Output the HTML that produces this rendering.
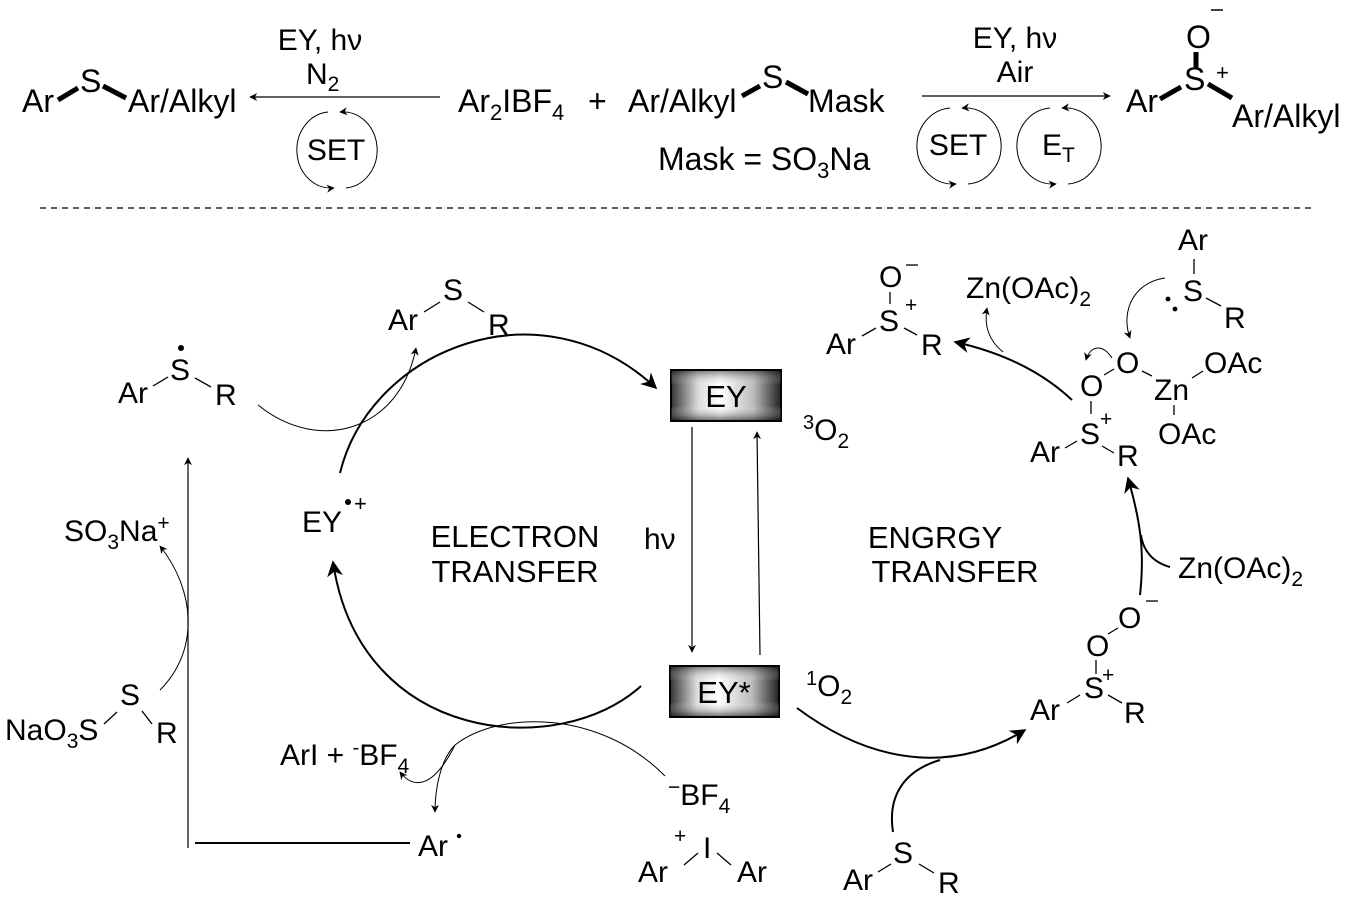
<!DOCTYPE html>
<html><head><meta charset="utf-8"><style>
html,body{margin:0;padding:0;background:#fff;}
svg{display:block;font-family:"Liberation Sans",Arial,sans-serif;}
text{fill:#000;}
</style></head><body>
<svg width="1356" height="903" viewBox="0 0 1356 903" xmlns="http://www.w3.org/2000/svg">
<defs>
<marker id="ah" viewBox="0 0 10 10" refX="9" refY="5" markerWidth="8" markerHeight="8" orient="auto" markerUnits="userSpaceOnUse"><path d="M0,0 L10,5 L0,10 L3,5 z" fill="#000"/></marker>
<marker id="ahb" viewBox="0 0 10 10" refX="9" refY="5" markerWidth="20" markerHeight="16" orient="auto" markerUnits="userSpaceOnUse"><path d="M0,0 L10,5 L0,10 L3,5 z" fill="#000"/></marker>
<linearGradient id="gh" x1="0" x2="1" y1="0" y2="0"><stop offset="0" stop-color="#333"/><stop offset="0.25" stop-color="#ddd"/><stop offset="0.45" stop-color="#fff"/><stop offset="0.75" stop-color="#bbb"/><stop offset="1" stop-color="#222"/></linearGradient>
<linearGradient id="gv" x1="0" x2="0" y1="0" y2="1"><stop offset="0" stop-color="#000" stop-opacity="0.5"/><stop offset="0.3" stop-color="#fff" stop-opacity="0"/><stop offset="0.7" stop-color="#fff" stop-opacity="0"/><stop offset="1" stop-color="#000" stop-opacity="0.6"/></linearGradient>
</defs>

<g font-size="32">
<text x="22" y="112">Ar</text>
<line x1="58" y1="100" x2="78" y2="88" stroke="#000" stroke-width="5"/>
<text x="80" y="92">S</text>
<line x1="103" y1="86" x2="126" y2="98" stroke="#000" stroke-width="5"/>
<text x="128" y="112">Ar/Alkyl</text>
<line x1="440" y1="97" x2="250" y2="97" stroke="#000" stroke-width="1.3" marker-end="url(#ah)"/>
<text x="320" y="50" text-anchor="middle" font-size="30">EY, hν</text>
<text x="306" y="84" font-size="30">N<tspan font-size="21" dy="7">2</tspan></text>
<path d="M328,112 A34,38 0 0 0 334,188" fill="none" stroke="#000" stroke-width="1" marker-end="url(#ah)"/>
<path d="M346,188 A34,38 0 0 0 340,112" fill="none" stroke="#000" stroke-width="1" marker-end="url(#ah)"/>
<text x="336" y="160" text-anchor="middle" font-size="30">SET</text>

<text x="458" y="112">Ar<tspan font-size="22" dy="8">2</tspan><tspan dy="-8">IBF</tspan><tspan font-size="22" dy="8">4</tspan></text>
<text x="588" y="112">+</text>
<text x="628" y="112">Ar/Alkyl</text>
<line x1="742" y1="96" x2="760" y2="86" stroke="#000" stroke-width="5"/>
<text x="762" y="88">S</text>
<line x1="786" y1="82" x2="808" y2="94" stroke="#000" stroke-width="5"/>
<text x="808" y="112">Mask</text>
<text x="658" y="170">Mask = SO<tspan font-size="22" dy="8">3</tspan><tspan dy="-8">Na</tspan></text>

<line x1="922" y1="96" x2="1110" y2="96" stroke="#000" stroke-width="1.3" marker-end="url(#ah)"/>
<text x="1015" y="48" text-anchor="middle" font-size="30">EY, hν</text>
<text x="1015" y="82" text-anchor="middle" font-size="30">Air</text>
<path d="M950,108 A36,38 0 0 0 956,184" fill="none" stroke="#000" stroke-width="1" marker-end="url(#ah)"/>
<path d="M968,184 A36,38 0 0 0 962,108" fill="none" stroke="#000" stroke-width="1" marker-end="url(#ah)"/>
<text x="958" y="155" text-anchor="middle" font-size="30">SET</text>
<path d="M1050,108 A36,38 0 0 0 1056,184" fill="none" stroke="#000" stroke-width="1" marker-end="url(#ah)"/>
<path d="M1068,184 A36,38 0 0 0 1062,108" fill="none" stroke="#000" stroke-width="1" marker-end="url(#ah)"/>
<text x="1042" y="155" font-size="30">E<tspan font-size="21" dy="7">T</tspan></text>
<text x="1126" y="112">Ar</text>
<line x1="1160" y1="99" x2="1181" y2="87" stroke="#000" stroke-width="5"/>
<text x="1184" y="90">S</text>
<text x="1216" y="80" font-size="22">+</text>
<line x1="1196" y1="52" x2="1196" y2="68" stroke="#000" stroke-width="5"/>
<text x="1186" y="48">O</text>
<line x1="1211" y1="10" x2="1223" y2="10" stroke="#000" stroke-width="1.5"/>
<line x1="1208" y1="84" x2="1232" y2="98" stroke="#000" stroke-width="5"/>
<text x="1232" y="127">Ar/Alkyl</text>

<line x1="40" y1="208" x2="1312" y2="208" stroke="#000" stroke-width="1.3" stroke-dasharray="6,5"/>
</g>

<g font-size="30">
<rect x="671" y="370" width="110" height="51" fill="url(#gh)" stroke="#000" stroke-width="2"/>
<rect x="671" y="370" width="110" height="51" fill="url(#gv)"/>
<text x="726" y="407" text-anchor="middle" font-size="31">EY</text>
<rect x="670" y="666" width="109" height="51" fill="url(#gh)" stroke="#000" stroke-width="2"/>
<rect x="670" y="666" width="109" height="51" fill="url(#gv)"/>
<text x="724" y="703" text-anchor="middle" font-size="31">EY*</text>
<line x1="692" y1="427" x2="692" y2="652" stroke="#000" stroke-width="1.2" marker-end="url(#ah)"/>
<line x1="760" y1="655" x2="757" y2="432" stroke="#000" stroke-width="1.2" marker-end="url(#ah)"/>
<text x="644" y="549">hν</text>
<text x="803" y="440"><tspan font-size="20" dy="-11">3</tspan><tspan dy="11">O</tspan><tspan font-size="21" dy="8">2</tspan></text>
<text x="806" y="696"><tspan font-size="20" dy="-11">1</tspan><tspan dy="11">O</tspan><tspan font-size="21" dy="8">2</tspan></text>

<text x="515" y="547" text-anchor="middle" font-size="31">ELECTRON</text>
<text x="515" y="582" text-anchor="middle" font-size="31">TRANSFER</text>
<text x="935" y="548" text-anchor="middle" font-size="31">ENGRGY</text>
<text x="955" y="582" text-anchor="middle" font-size="31">TRANSFER</text>

<path d="M340,473 C370,350 540,280 656,388" fill="none" stroke="#000" stroke-width="2" marker-end="url(#ahb)"/>
<path d="M641,686 C560,760 360,745 333,562" fill="none" stroke="#000" stroke-width="2" marker-end="url(#ahb)"/>
<text x="302" y="532">EY</text>
<circle cx="348" cy="502" r="3"/>
<text x="354" y="511" font-size="22">+</text>

<text x="118" y="403">Ar</text>
<line x1="153" y1="386" x2="168" y2="377" stroke="#000" stroke-width="1.3"/>
<text x="170" y="380">S</text>
<circle cx="181" cy="348" r="3"/>
<line x1="195" y1="378" x2="211" y2="387" stroke="#000" stroke-width="1.3"/>
<text x="215" y="405">R</text>
<path d="M258,405 C320,455 400,430 416,348" fill="none" stroke="#000" stroke-width="1" marker-end="url(#ah)"/>

<text x="388" y="330">Ar</text>
<line x1="424" y1="312" x2="440" y2="302" stroke="#000" stroke-width="1.3"/>
<text x="443" y="300">S</text>
<line x1="468" y1="302" x2="484" y2="312" stroke="#000" stroke-width="1.3"/>
<text x="488" y="335">R</text>

<line x1="188" y1="848" x2="188" y2="458" stroke="#000" stroke-width="1.2" marker-end="url(#ah)"/>
<line x1="195" y1="843" x2="410" y2="843" stroke="#000" stroke-width="2"/>
<text x="64" y="541">SO<tspan font-size="21" dy="8">3</tspan><tspan dy="-8">Na</tspan><tspan font-size="21" dy="-11">+</tspan></text>
<path d="M160,690 C200,650 195,590 160,546" fill="none" stroke="#000" stroke-width="1" marker-end="url(#ah)"/>
<text x="5" y="740">NaO<tspan font-size="21" dy="8">3</tspan><tspan dy="-8">S</tspan></text>
<line x1="104" y1="724" x2="117" y2="712" stroke="#000" stroke-width="1.3"/>
<text x="120" y="705">S</text>
<line x1="142" y1="711" x2="152" y2="724" stroke="#000" stroke-width="1.3"/>
<text x="156" y="743">R</text>

<path d="M665,776 C600,710 500,710 455,745 C440,760 435,790 435,812" fill="none" stroke="#000" stroke-width="1" marker-end="url(#ah)"/>
<path d="M455,745 C430,795 410,785 400,772" fill="none" stroke="#000" stroke-width="1" marker-end="url(#ah)"/>
<text x="280" y="765">ArI + <tspan font-size="20" dy="-11">-</tspan><tspan dy="11">BF</tspan><tspan font-size="21" dy="8">4</tspan></text>
<text x="668" y="805"><tspan font-size="21" dy="-11">−</tspan><tspan dy="11">BF</tspan><tspan font-size="21" dy="8">4</tspan></text>
<text x="418" y="856">Ar</text>
<circle cx="459" cy="836" r="2.2"/>
<text x="674" y="843" font-size="21">+</text>
<text x="703" y="858">I</text>
<line x1="698" y1="853" x2="684" y2="865" stroke="#000" stroke-width="1.3"/>
<line x1="717" y1="853" x2="731" y2="865" stroke="#000" stroke-width="1.3"/>
<text x="638" y="882">Ar</text>
<text x="737" y="882">Ar</text>

<path d="M797,708 C880,770 960,770 1025,730" fill="none" stroke="#000" stroke-width="2" marker-end="url(#ahb)"/>
<path d="M893,832 C888,800 900,772 940,760" fill="none" stroke="#000" stroke-width="2"/>
<text x="843" y="890">Ar</text>
<line x1="878" y1="872" x2="891" y2="864" stroke="#000" stroke-width="1.3"/>
<text x="893" y="863">S</text>
<line x1="919" y1="864" x2="934" y2="873" stroke="#000" stroke-width="1.3"/>
<text x="938" y="893">R</text>

<text x="1030" y="720">Ar</text>
<line x1="1067" y1="703" x2="1080" y2="695" stroke="#000" stroke-width="1.3"/>
<text x="1084" y="698">S</text>
<text x="1102" y="682" font-size="21">+</text>
<line x1="1096" y1="660" x2="1096" y2="674" stroke="#000" stroke-width="1.3"/>
<text x="1086" y="656">O</text>
<line x1="1108" y1="634" x2="1118" y2="628" stroke="#000" stroke-width="1.3"/>
<text x="1118" y="628">O</text>
<line x1="1146" y1="601" x2="1158" y2="601" stroke="#000" stroke-width="1.3"/>
<line x1="1108" y1="695" x2="1122" y2="703" stroke="#000" stroke-width="1.3"/>
<text x="1124" y="723">R</text>

<path d="M1140,595 C1145,550 1140,520 1128,478" fill="none" stroke="#000" stroke-width="2" marker-end="url(#ahb)"/>
<path d="M1170,567 C1152,562 1143,550 1141,535" fill="none" stroke="#000" stroke-width="2"/>
<text x="1178" y="578">Zn(OAc)<tspan font-size="21" dy="8">2</tspan></text>

<text x="1030" y="462">Ar</text>
<line x1="1065" y1="448" x2="1077" y2="441" stroke="#000" stroke-width="1.3"/>
<text x="1080" y="444">S</text>
<text x="1100" y="426" font-size="21">+</text>
<line x1="1091" y1="401" x2="1091" y2="414" stroke="#000" stroke-width="1.3"/>
<text x="1080" y="396">O</text>
<line x1="1104" y1="375" x2="1114" y2="369" stroke="#000" stroke-width="1.3"/>
<text x="1116" y="373">O</text>
<line x1="1142" y1="371" x2="1152" y2="376" stroke="#000" stroke-width="1.3"/>
<text x="1154" y="400">Zn</text>
<line x1="1192" y1="378" x2="1203" y2="371" stroke="#000" stroke-width="1.3"/>
<text x="1204" y="373">OAc</text>
<line x1="1174" y1="405" x2="1174" y2="415" stroke="#000" stroke-width="1.3"/>
<text x="1158" y="444">OAc</text>
<line x1="1102" y1="446" x2="1114" y2="453" stroke="#000" stroke-width="1.3"/>
<text x="1117" y="466">R</text>
<path d="M1112,358 C1102,343 1090,346 1086,360" fill="none" stroke="#000" stroke-width="1" marker-end="url(#ah)"/>

<text x="1178" y="250">Ar</text>
<line x1="1194" y1="259" x2="1194" y2="274" stroke="#000" stroke-width="1.3"/>
<text x="1183" y="301">S</text>
<circle cx="1168" cy="299" r="2.4"/>
<circle cx="1175" cy="309" r="2.4"/>
<line x1="1206" y1="298" x2="1221" y2="306" stroke="#000" stroke-width="1.3"/>
<text x="1224" y="328">R</text>
<path d="M1165,278 C1135,282 1120,310 1130,338" fill="none" stroke="#000" stroke-width="1" marker-end="url(#ah)"/>

<path d="M1072,400 C1040,370 1000,352 955,342" fill="none" stroke="#000" stroke-width="2" marker-end="url(#ahb)"/>
<path d="M1003,352 C988,340 984,325 987,308" fill="none" stroke="#000" stroke-width="1" marker-end="url(#ah)"/>
<text x="966" y="298">Zn(OAc)<tspan font-size="21" dy="8">2</tspan></text>

<text x="826" y="354">Ar</text>
<line x1="862" y1="336" x2="876" y2="328" stroke="#000" stroke-width="1.3"/>
<text x="879" y="331">S</text>
<text x="905" y="312" font-size="21">+</text>
<line x1="890" y1="292" x2="890" y2="304" stroke="#000" stroke-width="1.3"/>
<text x="879" y="287">O</text>
<line x1="906" y1="265" x2="918" y2="265" stroke="#000" stroke-width="1.3"/>
<line x1="904" y1="328" x2="917" y2="335" stroke="#000" stroke-width="1.3"/>
<text x="921" y="355">R</text>
</g>
</svg>
</body></html>
